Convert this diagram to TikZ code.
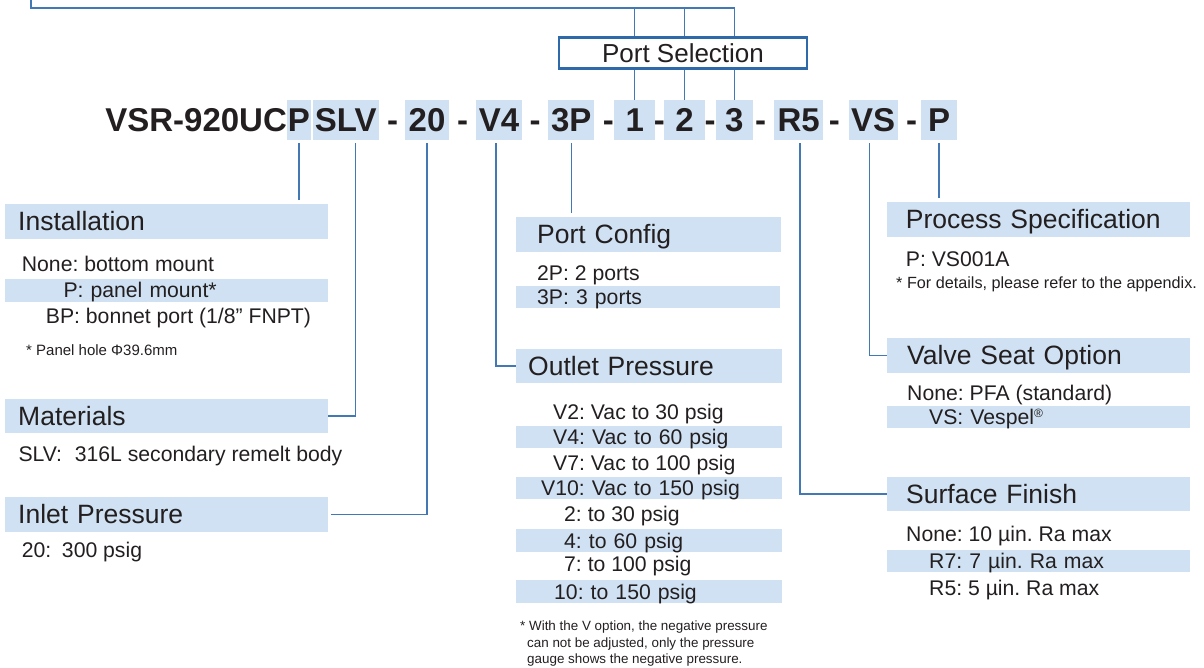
\documentclass[tikz,border=0pt]{standalone}
\usepackage{fontspec}
\setmainfont{Liberation Sans}
\usetikzlibrary{positioning,calc}
\definecolor{pnLine} {RGB}{ 66,120,180}
\definecolor{pnFrame}{RGB}{ 46,106,170}
\definecolor{pnBand} {RGB}{207,225,242}
\definecolor{pnText} {RGB}{ 35, 31, 32}

\begin{document}
\frenchspacing
\begin{tikzpicture}[x=1pt,y=-1pt,
    every node/.style={text=pnText,inner sep=0pt},
    code/.style={font=\fontsize{33}{36}\selectfont\bfseries,text height=22.5pt,
                 text depth=0pt,minimum height=40pt},
    seg/.style={code,fill=pnBand,minimum width=#1},
    selbox/.style={draw=pnFrame,line width=2.6pt,minimum width=248pt,
                 minimum height=31pt,font=\fontsize{26}{30}\selectfont,
                 text height=19pt,text depth=0pt},
    head/.style={fill=pnBand,anchor=west,minimum height=34.5pt,text width=#1,
                 align=left,font=\fontsize{26.5}{30}\selectfont,
                 text height=19pt,text depth=1pt},
    band/.style={fill=pnBand,anchor=west,minimum height=22.5pt,text width=#1,
                 align=left,font=\fontsize{21.2}{24}\selectfont,
                 text height=15.2pt,text depth=0pt},
    item/.style={anchor=west,font=\fontsize{21.2}{24}\selectfont,
                 text height=15.2pt,text depth=0pt},
    note/.style={anchor=west,font=\fontsize{15}{16.5}\selectfont,align=left},
    lnk/.style={pnLine,line width=1.3pt}
  ]
  \clip (0,0) rectangle (1204,667);
  % Part number row
  \node[seg=23.4pt] (cP)   at (299,120)   {P};
  \node[seg=66pt]   (cSLV) at (345.7,120) {SLV};
  \node[seg=44pt]   (c20)  at (427,120)   {20};
  \node[seg=46pt]   (cV4)  at (499,120)   {V4};
  \node[seg=46pt]   (c3P)  at (571.2,120) {3P};
  \node[seg=41pt]   (c1)   at (634.7,120) {1};
  \node[seg=41pt]   (c2)   at (684.5,120) {2};
  \node[seg=37pt]   (c3)   at (734.3,120) {3};
  \node[seg=49pt]   (cR5)  at (798.7,120) {R5};
  \node[seg=49pt]   (cVS)  at (873,120)   {VS};
  \node[seg=36pt]   (cPP)  at (939,120)   {P};
  \node[code,anchor=east] (base) at (cP.west) {VSR-920UC};
  \foreach \x/\n in {392.7/1,462.7/2,535/3,608.3/4,659.3/5,710/6,760.7/7,834.3/8,911.7/9}
    \node[code] (d\n) at (\x,120) {-};

  % Port selection
  \node[selbox] (sel) at (683,53) {Port Selection};
  \coordinate (topL) at (31,-5);
  \coordinate (topR) at (735,8);
  \draw[lnk] (topL) |- (topR);
  \foreach \c in {c1,c2,c3} {
    \draw[lnk] (\c |- topR) -- (\c |- sel.north);
    \draw[lnk] (\c |- sel.south) -- (\c.north);
  }

  % Left column
  \node[head=323pt] (inst) at (5,221.5) {\hspace*{13pt}Installation};
  \node[item] (instNone) at (21.7,264) {None: bottom mount};
  \node[band=323pt] (instP) at (5,290.3) {\hspace*{58.3pt}P: panel mount*};
  \node[item] (instBP) at (45.7,315.5) {BP: bonnet port (1/8” FNPT)};
  \node[note] (instNote) at (26,350.5) {* Panel hole Φ39.6mm};
  \node[head=323pt] (mat) at (5,416) {\hspace*{13pt}Materials};
  \node[item] (matSLV) at (18.3,454) {SLV:\hspace{0.6em}316L secondary remelt body};
  \node[head=323pt] (inlet) at (5,514.5) {\hspace*{13pt}Inlet Pressure};
  \node[item] (inletTxt) at (21.7,550) {20:\hspace{0.5em}300 psig};

  % Middle column
  \node[head=265pt] (pcfg) at (516,234.5) {\hspace*{21pt}Port Config};
  \node[item] (cfg2P) at (537,273) {2P: 2 ports};
  \node[band=264pt] (cfg3P) at (516,297) {\hspace*{21pt}3P: 3 ports};
  \node[head=266pt] (outp) at (516,366) {\hspace*{12pt}Outlet Pressure};
  \node[item] (outV2) at (553,412) {V2: Vac to 30 psig};
  \node[band=266pt] (outV4) at (516,437) {\hspace*{37pt}V4: Vac to 60 psig};
  \node[item] (outV7) at (553,463) {V7: Vac to 100 psig};
  \node[band=266pt] (outV10) at (516,488) {\hspace*{25pt}V10: Vac to 150 psig};
  \node[item] (out2) at (564,514) {2: to 30 psig};
  \node[band=266pt] (out4) at (516,540.5) {\hspace*{48pt}4: to 60 psig};
  \node[item] (out7) at (564,564) {7: to 100 psig};
  \node[band=266pt] (out10) at (516,591.5) {\hspace*{38pt}10: to 150 psig};
  \node[note,anchor=north west,font=\fontsize{13.4}{16.5}\selectfont] (outNote) at (520,621)
    {* With the V option, the negative pressure\\
     \hspace*{7pt}can not be adjusted, only the pressure\\
     \hspace*{7pt}gauge shows the negative pressure.};

  % Right column
  \node[head=303pt] (proc) at (887,219.5) {\hspace*{18.7pt}Process Specification};
  \node[item] (procP) at (905.7,258.7) {P: VS001A};
  \node[note,font=\fontsize{16.2}{18}\selectfont] (procNote) at (896,284)
    {* For details, please refer to the appendix.};
  \node[head=303pt] (seat) at (887,355.5) {\hspace*{20pt}Valve Seat Option};
  \node[item] (seatNone) at (907,392.5) {None: PFA (standard)};
  \node[band=303pt] (seatVS) at (887,417)
    {\hspace*{42pt}VS: Vespel\textsuperscript{\fontsize{12}{12}\selectfont ®}};
  \node[head=303pt] (surf) at (887,494) {\hspace*{19pt}Surface Finish};
  \node[item] (surfNone) at (906,534) {None: 10 µin. Ra max};
  \node[band=303pt] (surfR7) at (887,561) {\hspace*{42pt}R7: 7 µin. Ra max};
  \node[item] (surfR5) at (929,588) {R5: 5 µin. Ra max};

  % Connectors
  \draw[lnk,shorten <=3pt,shorten >=4pt] (cP.south) -- (cP.south |- inst.north);
  \draw[lnk,shorten <=3pt] ([xshift=10pt]cSLV.south) |- (mat.east);
  \draw[lnk,shorten <=3pt] (c20.south) |- ([xshift=3pt]inlet.east);
  \draw[lnk,shorten <=3pt] ([xshift=-3pt]cV4.south) |- (outp.west);
  \draw[lnk,shorten <=3pt,shorten >=4pt] (c3P.south) -- (c3P.south |- pcfg.north);
  \draw[lnk,shorten <=3pt] ([xshift=1.3pt]cR5.south) |- (surf.west);
  \draw[lnk,shorten <=3pt] ([xshift=-3.7pt]cVS.south) |- (seat.west);
  \draw[lnk,shorten <=3pt,shorten >=4pt] (cPP.south) -- (cPP.south |- proc.north);
\end{tikzpicture}
\end{document}
